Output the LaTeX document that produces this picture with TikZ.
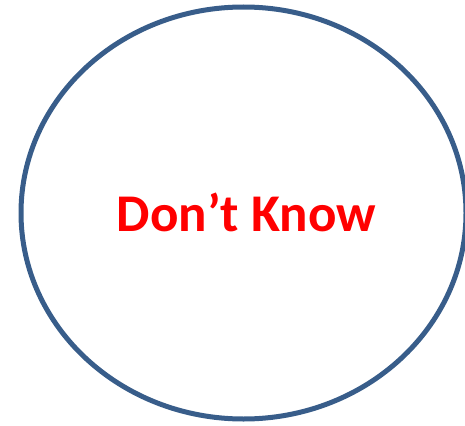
\documentclass[tikz,border=0pt]{standalone}
\usepackage{fontspec}
\setmainfont{Carlito}
\usetikzlibrary{shapes.geometric}
\definecolor{rim}{HTML}{385D8A}
\begin{document}
\begin{tikzpicture}[x=1pt,y=-1pt,
  rimstyle/.style={draw=rim,line width=5pt},
  labelstyle/.style={text=red,font=\fontsize{53}{60}\selectfont\bfseries,inner sep=0pt,anchor=base}]
\useasboundingbox (0,0) rectangle (465,425);
\node[rimstyle,ellipse,minimum width=445pt,minimum height=412pt,inner sep=0pt] (circ) at (243.5,213) {};
\node[labelstyle] (lbl) at (246.5,231) {Don’t Know};
\end{tikzpicture}
\end{document}
